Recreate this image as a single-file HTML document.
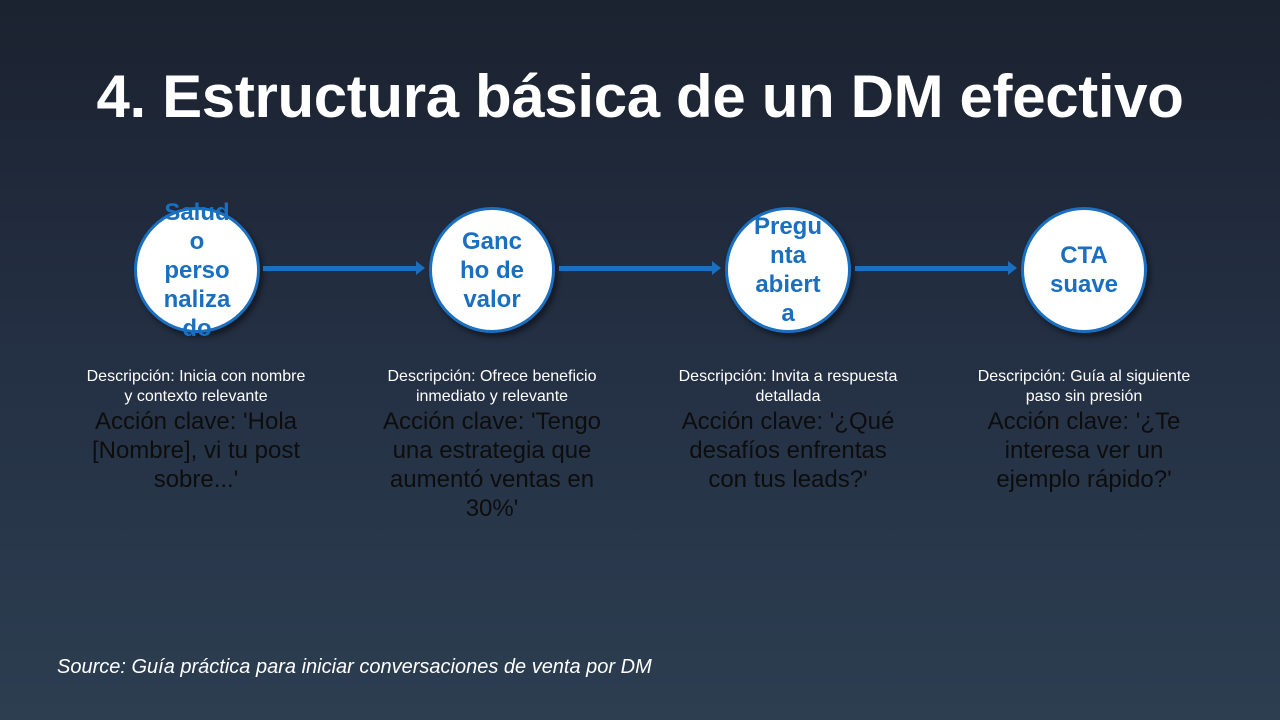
<!DOCTYPE html>
<html><head><meta charset="utf-8"><style>
*{margin:0;padding:0;box-sizing:border-box}
body{width:1280px;height:720px;overflow:hidden;background:linear-gradient(180deg,#1b2230 0%,#243044 50%,#2d3e51 100%);font-family:"Liberation Sans",sans-serif;position:relative}
h1{position:absolute;top:62px;left:0;width:1280px;text-align:center;color:#fff;font-size:60px;font-weight:bold;letter-spacing:-0.35px}
.c{position:absolute;top:207px;width:126px;height:126px;border-radius:50%;background:#fff;border:3px solid #1a6fc0;box-shadow:3px 4px 6px rgba(0,0,0,.45);display:flex;align-items:center;justify-content:center;text-align:center;color:#1a6fc0;font-weight:bold;font-size:24px;line-height:29px;white-space:nowrap}
.a{position:absolute;top:266px;height:5px;background:#1a6fc0}
.a:after{content:"";position:absolute;right:-4px;top:-5px;border-left:9px solid #1a6fc0;border-top:7.5px solid transparent;border-bottom:7.5px solid transparent}
.d{position:absolute;top:367px;width:280px;text-align:center;color:#fff;font-size:16px;line-height:20px;white-space:nowrap}
.k{position:absolute;top:407px;width:280px;text-align:center;color:#0d0d0d;font-size:24px;line-height:29px;white-space:nowrap}
.s{position:absolute;left:57px;top:656px;color:#fff;font-style:italic;font-size:20px}
</style></head><body>
<h1>4. Estructura básica de un DM efectivo</h1>
<div class="c" style="left:134px">Salud<br>o<br>perso<br>naliza<br>do</div>
<div class="c" style="left:429px">Ganc<br>ho de<br>valor</div>
<div class="c" style="left:725px">Pregu<br>nta<br>abiert<br>a</div>
<div class="c" style="left:1021px">CTA<br>suave</div>
<div class="a" style="left:263px;width:158px"></div>
<div class="a" style="left:559px;width:158px"></div>
<div class="a" style="left:855px;width:158px"></div>
<div class="d" style="left:56px">Descripción: Inicia con nombre<br>y contexto relevante</div>
<div class="d" style="left:352px">Descripción: Ofrece beneficio<br>inmediato y relevante</div>
<div class="d" style="left:648px">Descripción: Invita a respuesta<br>detallada</div>
<div class="d" style="left:944px">Descripción: Guía al siguiente<br>paso sin presión</div>
<div class="k" style="left:56px">Acción clave: 'Hola<br>[Nombre], vi tu post<br>sobre...'</div>
<div class="k" style="left:352px">Acción clave: 'Tengo<br>una estrategia que<br>aumentó ventas en<br>30%'</div>
<div class="k" style="left:648px">Acción clave: '¿Qué<br>desafíos enfrentas<br>con tus leads?'</div>
<div class="k" style="left:944px">Acción clave: '¿Te<br>interesa ver un<br>ejemplo rápido?'</div>
<div class="s">Source: Guía práctica para iniciar conversaciones de venta por DM</div>
</body></html>
